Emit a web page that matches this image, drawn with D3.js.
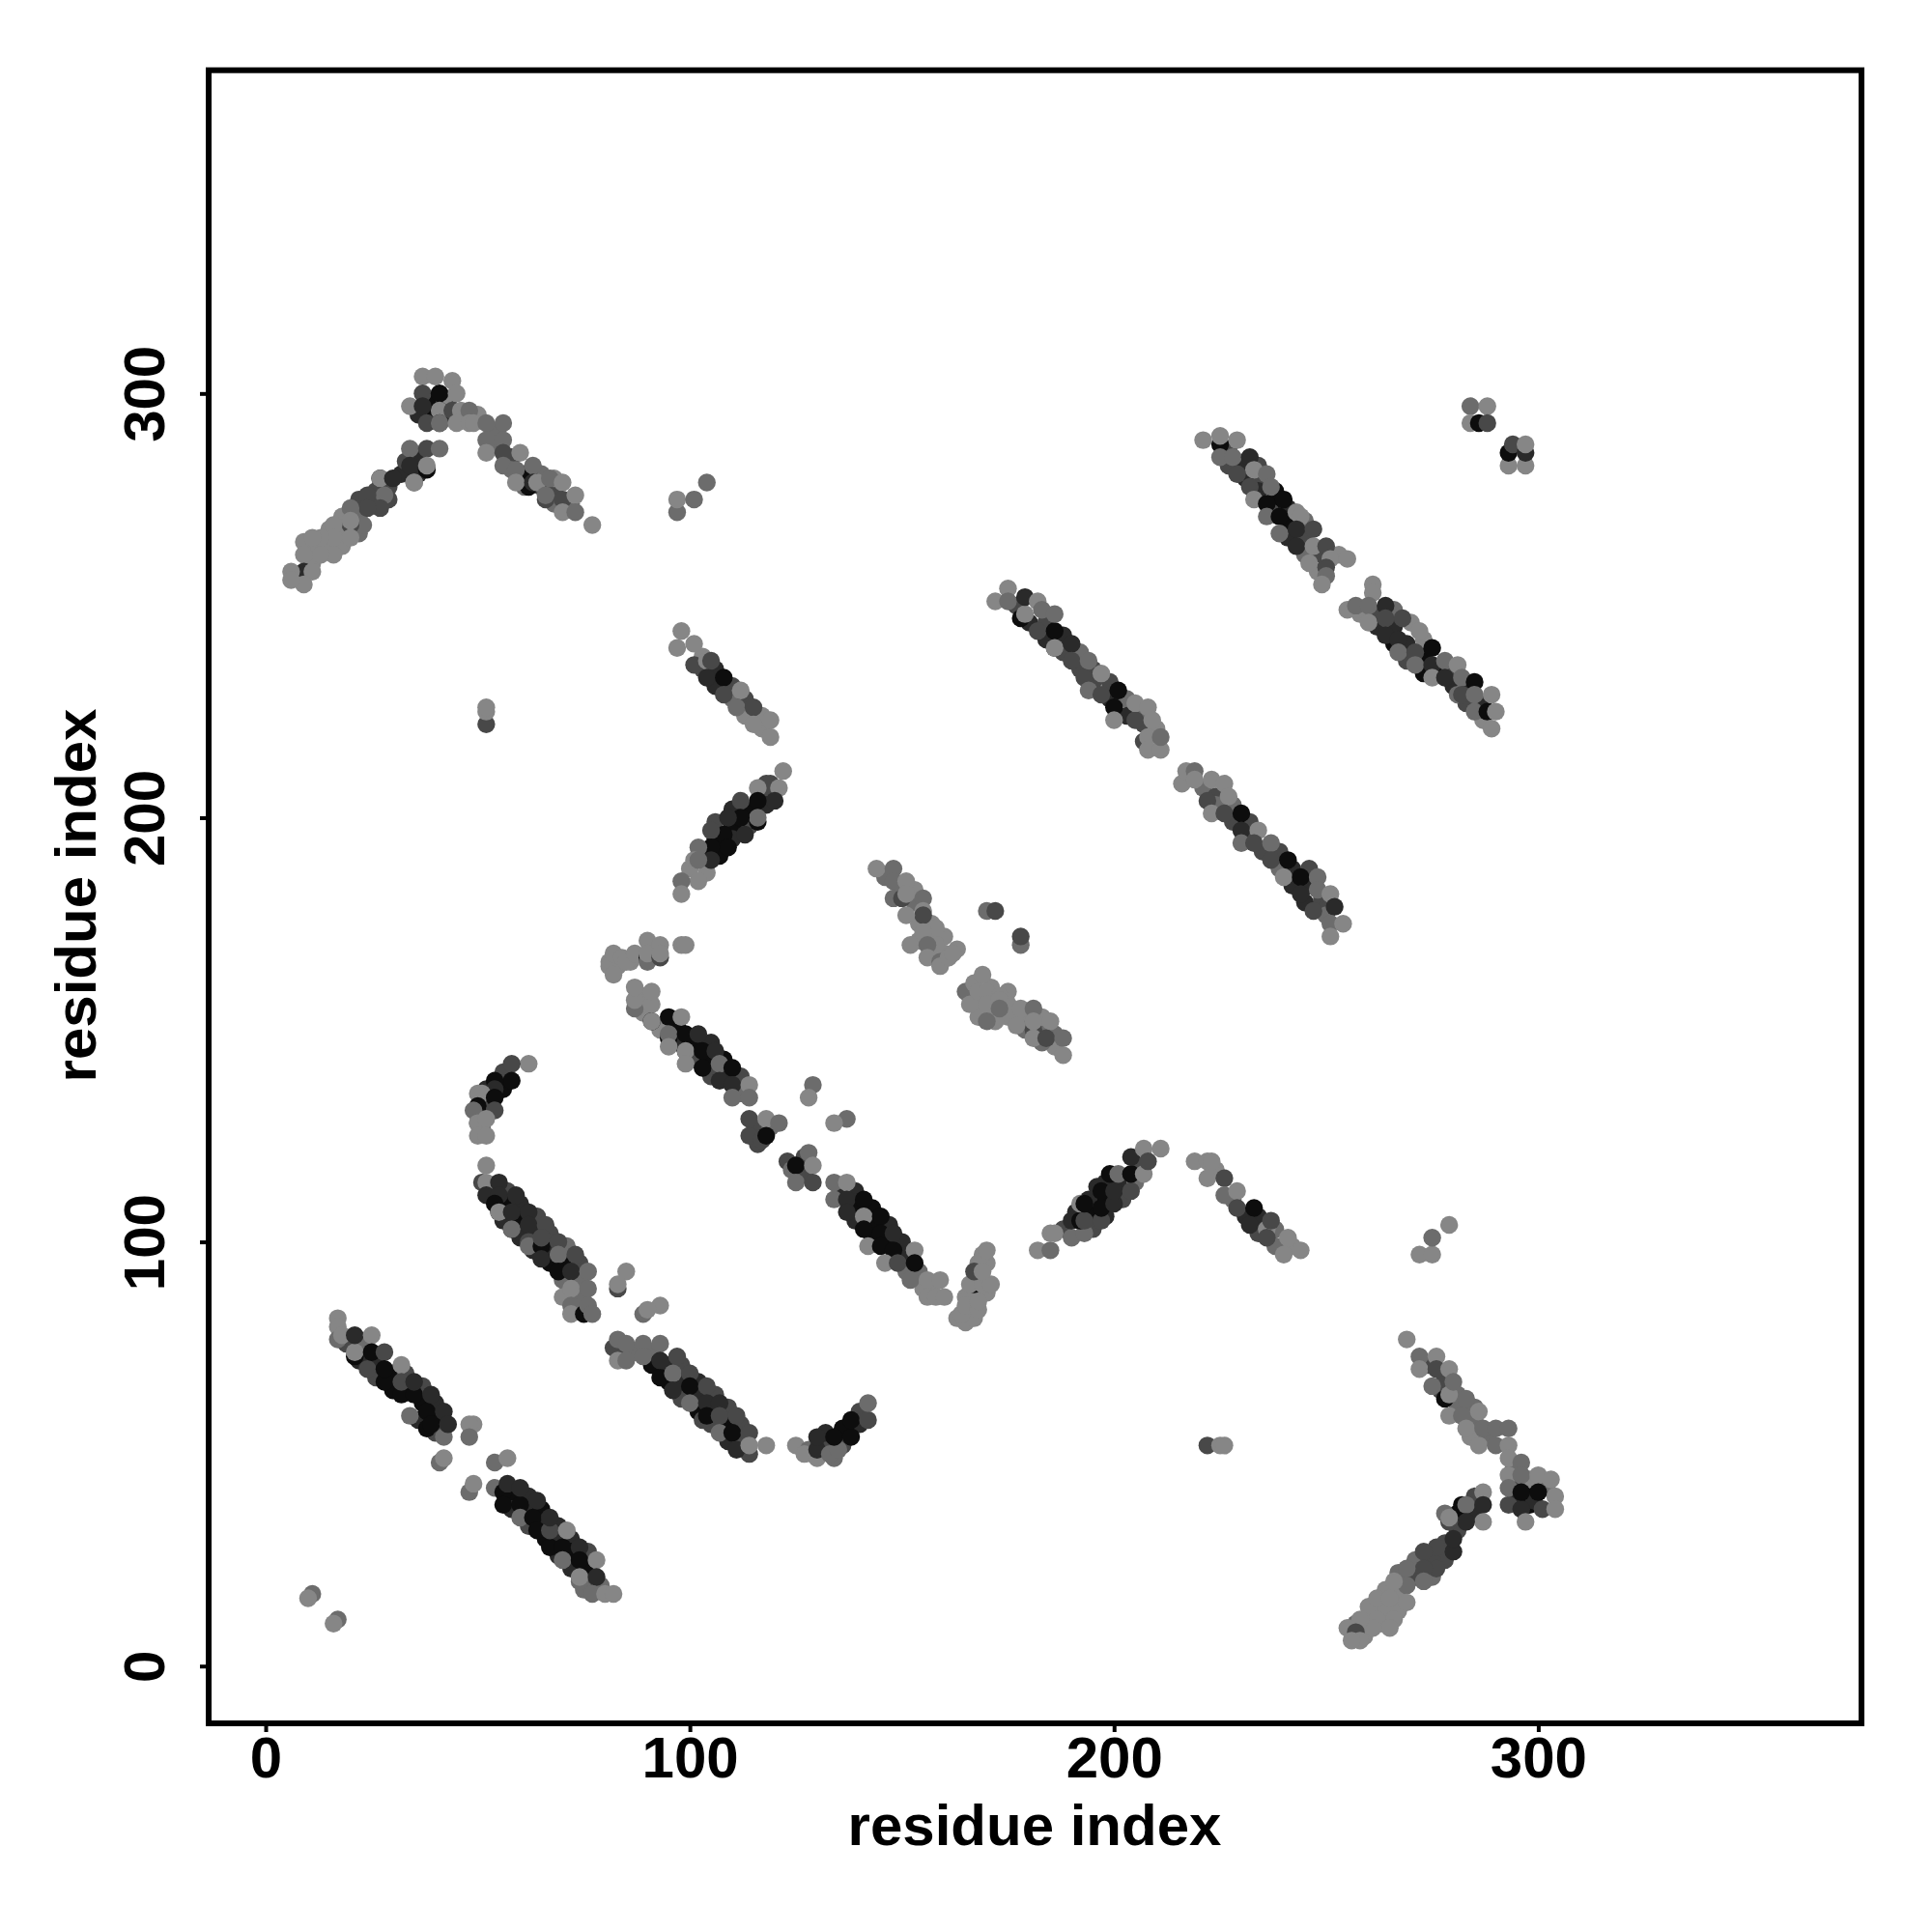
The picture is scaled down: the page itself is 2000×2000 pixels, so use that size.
<!DOCTYPE html>
<html><head><meta charset="utf-8">
<script src="https://cdn.jsdelivr.net/npm/d3@7"></script>
<style>html,body{margin:0;background:#fff}svg{display:block}text{font-family:"Liberation Sans",Arial,sans-serif;font-weight:bold;fill:#000}</style>
</head><body><div id="chart"></div>
<script>
const xLabel = "residue index", yLabel = "residue index";
const tickValues = [0,100,200,300];
const underlay = [[19,76,3],[23,76,2],[22,72,4],[26,72,4],[26,68,3],[30,69,5],[30,65,5],[33,69,3],[33,66,4],[37,62,5],[37,66,3],[36,58,4],[40,62,4],[41,58,5],[40,55,3],
[58,40,5],[58,37,4],[62,40,4],[62,37,4],[62,33,3],[65,37,5],[66,34,4],[66,30,5],[69,30,4],[69,33,4],[69,26,4],[72,30,4],[72,27,5],[72,23,4],[76,23,5],[76,27,3],[76,19,3],[75,18,2],[79,19,2],
[56,140,3],[56,136,5],[52,136,4],[52,133,4],[52,131,3],[51,127,2],[53,132,3],
[53,112,4],[57,112,3],[56,109,5],[60,109,4],[56,105,4],[60,105,5],[64,106,3],[60,101,4],[64,102,4],[67,102,3],[63,98,4],[67,98,4],[71,99,2],[67,95,5],[71,95,5],[74,95,3],[74,91,2],[70,91,2],[74,87,2],[74,84,2],[70,87,1],
[84,74,3],[87,74,2],[91,74,2],[91,71,5],[95,71,4],[95,67,5],[98,67,4],[98,71,3],[102,67,4],[98,63,3],[102,63,4],[102,60,5],[106,60,5],[106,64,3],[105,57,3],[109,57,5],[109,61,3],[112,57,3],[109,53,4],[112,53,3],
[132,52,3],[132,55,4],[136,56,5],[136,52,3],[140,57,4],[129,50,3],[134,49,2],[140,60,3],
[97,151,5],[97,147,4],[101,147,5],[101,143,3],[105,143,5],[105,147,4],[108,143,5],[105,139,3],[108,139,4],[112,139,3],[112,135,2],[116,127,3],[116,123,3],[119,127,2],[127,116,3],[127,120,3],[123,119,3],
[136,112,4],[139,112,4],[139,108,5],[143,108,5],[143,104,5],[139,105,4],[147,104,4],[147,100,5],[143,101,5],[150,100,4],[150,97,4],[151,93,2],[154,93,2],[157,89,1],[149,97,4],[155,89,1],[83,165,1],[86,166,1],[92,168,2],[89,158,1],[89,154,1],[93,150,1],
[188,103,3],[195,107,5],[195,103,3],[198,110,5],[198,106,4],[194,110,4],[202,110,3],[202,114,4],[198,114,4],[206,118,3],[205,114,2],[191,107,4],
[224,117,1],[228,110,2],[231,106,4],[234,106,4],[234,102,3],[238,99,2],[238,103,2],[242,99,1],
[177,250,3],[180,246,4],[184,246,3],[184,242,4],[188,239,3],[188,243,4],[192,235,3],[195,232,3],[199,232,3],[199,228,4],[203,228,2],[203,224,4],[207,222,3],[207,225,2],[210,221,1],[192,239,2],[195,235,3],
[221,207,2],[224,205,3],[224,203,2],[228,203,2],[228,199,3],[232,199,3],[232,196,3],[235,192,3],[239,192,3],[239,188,2],[242,188,4],[246,184,4],[246,188,3],[242,184,4],[249,181,3],[249,178,3],[250,177,2],[245,180,4],
[227,287,3],[230,283,4],[227,283,3],[234,283,3],[231,280,4],[235,280,3],[234,277,4],[238,277,5],[238,273,5],[241,273,4],[241,269,5],[237,272,3],[245,270,2],[245,266,3],[241,266,4],[245,262,2],[249,262,3],[248,258,1],[253,262,1],
[262,248,3],[262,245,4],[266,245,4],[266,249,2],[270,246,1],[266,241,5],[269,241,4],[269,237,3],[273,238,5],[273,242,1],[273,234,5],[277,234,3],[277,235,5],[280,234,3],[280,231,4],[283,231,2],[283,227,3],[287,227,4],[287,223,1],[258,248,1],[284,230,4],
[39,298,5],[39,295,5],[36,295,4],[43,298,3],[43,295,4],[42,299,1],[50,295,1],[54,291,2],[54,288,2],[58,285,3],[58,282,2],[61,281,3],[61,278,2],[65,278,3],[65,281,2],[68,277,3],[68,274,2],[72,274,2],[62,281,5],[62,278,5],[68,280,1],
[36,285,4],[36,281,4],[32,281,4],[29,278,3],[26,277,3],[26,275,3],[22,275,3],[22,271,2],[18,271,1],[18,268,1],[14,264,1],[11,263,1],[11,260,1],[7,257,1],[18,264,1],[15,268,1],[29,275,3],[22,267,2],[33,284,3],
[274,71,3],[278,68,3],[277,65,3],[281,64,2],[281,61,2],[285,61,2],[285,58,2],[284,54,1],[288,54,2],[294,46,2],[295,43,3],[295,39,4],[298,42,5],[298,38,5],[298,44,1],[302,42,2],[299,39,4],
[285,36,4],[281,36,5],[285,40,3],[278,36,2],[281,32,3],[278,29,3],[278,25,3],[275,25,3],[271,25,2],[271,21,3],[275,21,2],[267,22,2],[267,17,1],[264,18,1],[263,13,1],[267,13,1],[260,10,1],[264,13,1],[260,14,1],[257,10,2],[263,10,1],[259,7,1],
[103,235,3],[106,235,4],[106,231,4],[110,231,3],[110,228,2],[113,228,3],[113,224,1],[117,224,1],[117,221,1],[103,238,1],
[118,206,3],[118,203,4],[114,202,5],[114,198,3],[110,198,5],[110,202,4],[106,195,5],[110,195,4],[106,199,3],[103,192,3],[107,191,5],[100,188,1],[104,187,1],[118,208,3],
[146,186,2],[150,183,2],[153,180,2],[153,183,1],[157,175,1],[157,172,1],[154,175,1],[160,172,1],[154,171,1],[160,168,1],[158,168,1],[166,158,1],[168,156,1],[168,153,1],[172,154,1],[171,160,1],[175,156,1],[175,153,1],[179,153,1],[179,150,2],[183,150,2],[183,153,1],[186,149,2],[186,146,1],[183,147,2],[167,159,1],[175,159,1],[172,152,1],
[165,83,1],[166,83,1],[167,85,1],[165,87,1],[168,88,1],[168,92,3],[170,95,1],[170,88,1],[168,95,1],[166,88,1]];
const isolated = [[11,17,2],[10,16,1],[17,11,2],[16,10,1],[49,57,1],[48,57,1],[48,54,2],[41,48,2],[42,49,1],[54,48,2],[57,49,1],[48,41,2],[49,43,1],[54,42,2],
[85,93,1],[83,89,3],[83,90,1],[93,85,1],[89,83,2],[90,84,1],[129,137,2],[128,134,1],[137,129,2],[134,128,1],[222,52,3],[225,52,1],[226,52,1],[272,97,1],[275,97,1],[275,101,2],[279,104,1],
[170,178,2],[172,178,3],[178,170,2],[178,172,3],[97,272,2],[97,275,1],[101,275,2],[104,279,2],[52,222,3],[52,225,1],[52,226,1],
[284,297,2],[288,297,1],[284,293,1],[286,293,5],[288,293,3],[293,283,1],[297,283,1],[293,286,5],[294,288,3],[297,286,4],[297,288,1]];
const bandA = [[17,82,1],[17,80,1],[17,77,2],[18,78,1],[21,73,5],[21,74,1],[24,70,3],[28,67,5],[32,64,5],[34,59,2],[38,56,5],[42,54,2],[21,78,4],[25,78,1],[25,74,5],[28,74,3],[28,70,5],[32,71,1],[32,67,3],[35,64,5],[35,67,4],[38,60,5],[39,64,4],[39,57,5],[42,60,4],[43,57,4]];
const bandB = [[56,41,5],[56,38,5],[57,43,4],[60,38,5],[60,35,2],[60,42,4],[63,35,5],[64,39,4],[64,32,5],[67,28,5],[67,32,3],[67,35,4],[70,28,5],[70,25,2],[71,32,1],[74,28,4],[74,25,5],[74,21,5],[74,20,2],[74,21,1],[78,25,1],[78,21,4],[77,17,2],[80,17,1],[82,17,1]];
const bandC = [[62,142,1],[58,142,3],[58,138,5],[54,138,5],[54,136,4],[51,135,1],[50,135,1],[54,134,5],[50,132,5],[49,131,2],[54,131,3],[50,128,2],[50,128,1],[52,129,1],[50,125,1],[52,125,1]];
const bandD = [[52,118,1],[51,114,3],[52,114,1],[55,114,4],[52,111,4],[55,111,4],[59,111,4],[54,109,5],[55,107,5],[55,107,1],[58,107,4],[62,107,4],[58,103,5],[58,103,2],[62,104,4],[66,104,3],[62,100,3],[62,99,2],[65,99,5],[65,101,3],[69,100,3],[65,96,4],[69,97,2],[69,93,5],[73,97,3],[72,93,4],[76,93,2],[72,89,1],[76,89,2],[72,85,2],[72,83,1],[75,83,5],[76,85,2],[77,83,2]];
const bandE = [[82,75,3],[83,77,2],[85,76,2],[89,76,2],[93,76,2],[83,72,1],[85,72,2],[89,73,2],[93,72,4],[97,73,3],[93,68,5],[96,69,2],[100,69,3],[96,65,4],[100,66,5],[104,66,3],[100,62,2],[104,62,4],[107,62,4],[103,58,3],[104,59,5],[107,59,3],[111,59,3],[107,55,2],[110,55,5],[114,55,3],[114,50,3],[111,51,4],[114,52,1],[118,52,1]];
const bandF = [[125,52,1],[128,51,2],[127,50,1],[130,49,1],[130,51,4],[133,50,2],[135,51,2],[130,54,4],[134,54,5],[138,54,5],[138,58,5],[142,58,3],[142,62,2]];
const bandG = [[81,166,1],[81,165,1],[82,163,1],[82,168,1],[84,167,1],[85,166,1],[87,168,1],[90,167,5],[90,166,2],[90,171,1],[90,168,1],[93,167,3],[93,170,1],[93,168,1],[98,170,1],[99,170,1],
[87,155,2],[87,157,1],[87,160,1],[91,156,1],[91,159,1],[91,152,5],[91,152,1],[95,153,5],[98,153,1],[95,148,5],[95,149,2],[99,149,5],[102,149,4],[95,146,1],[99,145,5],[99,145,1],[103,145,5],[106,145,4],[99,142,1],[103,141,5],[107,142,2],[110,141,5],[107,138,4],[110,137,4],[114,137,1],[110,134,2],[114,134,2],
[114,129,3],[118,129,1],[121,128,2],[114,125,3],[117,124,3],[118,125,5],
[128,121,2],[124,117,2],[125,118,5],[129,118,1],[125,114,2],[129,114,3],
[134,114,2],[137,114,1],[134,110,2],[137,110,4],[141,110,5],[137,107,4],[141,106,1],[145,106,5],[141,103,5],[145,102,5],[148,102,4],[142,99,1],[145,99,5],[148,98,5],[153,98,1],[146,95,1],[149,95,3],[153,95,5],
[152,91,2],[156,91,1],[159,91,1],[156,87,1],[158,87,1],[160,87,1]];
const bandV = [[163,82,1],[165,81,1],[167,82,1],[164,83,1],[165,85,1],[168,84,1],[168,86,1],[167,90,5],[166,90,1],[169,90,1],[171,90,1],[167,93,3],[169,93,1],[169,97,1],[170,98,1]];
const bandH = [[182,98,1],[185,98,2],[185,102,1],[186,102,1],[190,101,2],[190,105,4],[193,102,2],[192,105,5],[193,105,3],[197,105,3],[192,109,1],[193,109,5],[197,108,5],[196,113,4],[197,112,5],[200,109,4],[200,112,4],[204,112,3],[199,116,5],[201,116,2],[204,116,5],[207,116,1],[204,120,4],[207,122,1],[208,119,3],[211,122,1],
[219,119,1],[222,119,1],[223,119,1],[222,115,1],[226,115,3],[226,111,2],[229,112,1],[229,108,3],[233,108,5],[232,104,4],[236,103,1],[237,105,3],[236,101,3],[241,101,1],[240,97,1],[244,98,1]];
const bandI = [[172,251,1],[175,254,1],[175,251,2],[178,247,5],[179,248,1],[179,252,4],[182,251,1],[183,249,2],[182,244,3],[186,244,5],[186,248,2],[186,240,4],[186,240,1],[190,241,4],[190,237,3],[194,237,2],[193,233,3],[197,234,1],[194,230,2],[197,229,3],[201,230,5],[200,226,5],[200,223,1],[205,223,3],[205,227,1],[208,226,1],[209,223,1],[207,218,3],[208,219,1],[208,216,1],[211,216,1],[211,219,2]];
const bandJ = [[216,208,1],[217,211,1],[219,211,2],[219,209,1],[223,209,1],[226,208,1],[222,204,3],[227,205,1],[223,201,1],[226,201,3],[230,201,5],[230,197,4],[234,197,1],[230,194,2],[233,194,3],[237,194,2],[237,190,3],[241,190,5],[240,186,1],[244,186,5],[248,186,2],[244,182,4],[248,183,2],[251,182,1],[247,178,3],[252,179,4],[251,175,2],[254,175,1],[251,172,1]];
const bandK = [[221,289,1],[225,288,5],[225,290,1],[229,289,1],[225,285,2],[228,285,2],[232,285,4],[229,281,3],[233,282,1],[236,281,2],[232,278,3],[237,278,2],[233,275,1],[236,274,5],[240,275,5],[236,271,2],[239,271,5],[243,272,1],[244,271,1],[239,267,2],[243,268,4],[247,268,3],[243,264,4],[247,264,1],[250,264,3],[246,260,1],[251,261,1],[255,261,1],[250,259,3],[250,257,2],[249,255,1]];
const bandL = [[261,255,1],[261,253,1],[255,249,1],[257,250,2],[260,250,2],[260,246,1],[264,250,4],[264,247,3],[268,247,3],[264,243,4],[267,242,4],[272,244,1],[267,239,2],[271,239,3],[275,240,5],[271,236,2],[275,236,4],[278,237,2],[281,236,1],[275,233,1],[278,233,4],[282,233,2],[281,229,2],[282,229,3],[285,232,5],[285,225,2],[288,225,5],[285,229,2],[289,229,1],[290,225,1],[289,221,1]];
const bandPeak = [[37,304,1],[40,304,1],[44,303,1],[37,300,3],[41,300,5],[45,300,1],[34,297,1],[37,297,4],[41,296,5],[41,296,1],[44,296,3],[46,296,1],[48,296,2],[38,293,3],[41,293,4],[41,293,2],[45,293,1],[48,293,1],[49,293,1],[52,293,2],[56,293,2],[52,289,2],[56,289,2],[52,286,1],[56,286,3],[60,286,1],[56,283,2],[59,282,2],[63,283,2],[59,279,1],[63,279,4],[64,279,1],[67,280,2],[66,275,3],[66,276,2],[70,279,1],[70,275,3],[73,276,1],[70,272,1],[73,272,2],[77,269,1]];
const bandArm = [[34,287,2],[38,287,3],[41,287,2],[34,283,4],[38,282,5],[38,283,1],[35,279,2],[35,279,1],[27,280,5],[27,280,1],[30,280,4],[28,276,2],[24,276,3],[27,273,3],[24,273,3],[20,273,2],[23,269,2],[20,269,3],[20,270,1],[16,269,1],[20,266,1],[16,266,1],[16,262,1],[13,266,1],[9,265,1],[11,266,1],[9,262,1],[13,262,1],[9,258,4],[11,258,1],[6,258,1],[9,255,1],[6,256,1]];
const bandR = [[269,77,1],[272,73,2],[276,73,1],[272,70,1],[276,70,3],[279,70,1],[275,66,2],[278,63,5],[279,64,1],[280,67,2],[283,63,2],[279,59,1],[282,59,2],[286,60,1],[283,56,1],[287,56,2],[290,56,2],[293,56,2],[286,52,1],[290,52,2],[293,52,1],[293,49,1],[296,48,2],[293,45,1],[296,45,2],[300,45,1],[303,44,1],[293,38,3],[293,42,2],[296,37,4],[296,41,5],[301,37,3],[300,41,5],[304,40,1],[304,37,1],[297,34,1]];
const bandS = [[287,41,1],[282,38,5],[283,38,2],[287,38,4],[287,34,1],[283,34,4],[279,34,3],[279,35,1],[280,27,4],[280,30,4],[276,28,3],[273,27,3],[276,23,3],[273,23,3],[273,20,2],[269,23,2],[269,19,2],[266,20,1],[269,15,1],[262,16,1],[265,16,1],[266,11,1],[262,11,1],[265,9,1],[261,9,1],[258,11,1],[255,9,1],[257,8,3],[258,6,1],[256,6,1]];
const bandN = [[98,244,1],[97,240,1],[101,241,1],[101,236,3],[104,237,1],[105,237,3],[104,233,4],[108,233,5],[108,229,3],[112,230,1],[111,226,2],[115,226,3],[115,222,1],[119,223,1],[119,219,1]];
const bandO = [[122,211,1],[119,208,3],[121,207,1],[116,207,1],[120,204,4],[116,204,5],[112,204,3],[116,199,5],[116,200,2],[112,200,5],[109,200,4],[113,196,4],[108,196,5],[105,197,3],[109,193,5],[105,193,5],[102,193,2],[105,190,4],[101,190,1],[102,190,2],[102,185,1],[98,185,2],[98,182,1]];
const bandM = [[144,188,1],[148,188,2],[148,185,2],[151,185,1],[148,181,2],[150,181,3],[151,182,1],[155,181,2],[155,178,1],[155,177,3],[151,177,1],[158,174,1],[155,173,1],[152,170,1],[158,170,1],[156,170,2],[163,169,1],[156,167,1],[159,166,2],[159,165,1],[161,167,1],[162,168,1],
[165,159,2],[166,156,1],[167,161,1],[168,159,1],[169,163,1],[170,159,1],[170,156,1],[170,152,2],[173,158,1],[173,157,1],[173,155,2],[178,155,1],[177,151,1],[181,155,2],[181,150,3],[181,152,1],[181,148,1],[185,152,1],[184,148,3],[188,148,2],[188,144,1]];

const allBands = [underlay,isolated,bandA,bandB,bandC,bandD,bandE,bandF,bandG,bandV,bandH,bandI,bandJ,bandK,bandL,bandPeak,bandArm,bandR,bandS,bandN,bandO,bandM];

const W=2000,H=2000,L=216,R=1927,T=72.7,B=1784;
const x=d3.scaleLinear().domain([-13.44,376.2]).range([L,R]);
const y=d3.scaleLinear().domain([-13.5,376.2]).range([B,T]);
const shade=d3.scaleLinear().domain([1,2,3,4,5]).range(["#868686","#6c6c6c","#484848","#2a2a2a","#0d0d0d"]);
const svg=d3.select("#chart").append("svg").attr("width",W).attr("height",H);
svg.append("rect").attr("width",W).attr("height",H).attr("fill","#fff");
svg.append("g").selectAll("g").data(allBands).join("g").selectAll("circle").data(d=>d).join("circle")
  .attr("cx",d=>x(d[0])).attr("cy",d=>y(d[1])).attr("r",9.2).attr("fill",d=>shade(d[2]));
svg.append("rect").attr("x",L).attr("y",T).attr("width",R-L).attr("height",B-T).attr("fill","none").attr("stroke","#000").attr("stroke-width",6);
const gx=svg.append("g").attr("transform",`translate(0,${B})`).call(d3.axisBottom(x).tickValues(tickValues).tickSize(9).tickPadding(12).tickFormat(d3.format("d")));
const gy=svg.append("g").attr("transform",`translate(${L},0)`).call(d3.axisLeft(y).tickValues(tickValues).tickSize(9).tickFormat(d3.format("d")));
[gx,gy].forEach(g=>{g.select(".domain").remove();g.selectAll("line").attr("stroke","#000").attr("stroke-width",4);g.selectAll("text").style("font-size","60px").attr("font-family",null);});
gx.selectAll("text").attr("dy",null).attr("y",null).attr("dominant-baseline",null).attr("transform","translate(0,56)");
gy.selectAll("text").attr("x",null).attr("dy",null).attr("text-anchor","middle").attr("transform",d=>`translate(-46,0) rotate(-90)`);
svg.append("text").attr("x",1071).attr("y",1910).attr("text-anchor","middle").style("font-size","60px").text(xLabel);
svg.append("text").attr("transform","translate(99,927) rotate(-90)").attr("text-anchor","middle").style("font-size","60px").text(yLabel);
</script></body></html>
